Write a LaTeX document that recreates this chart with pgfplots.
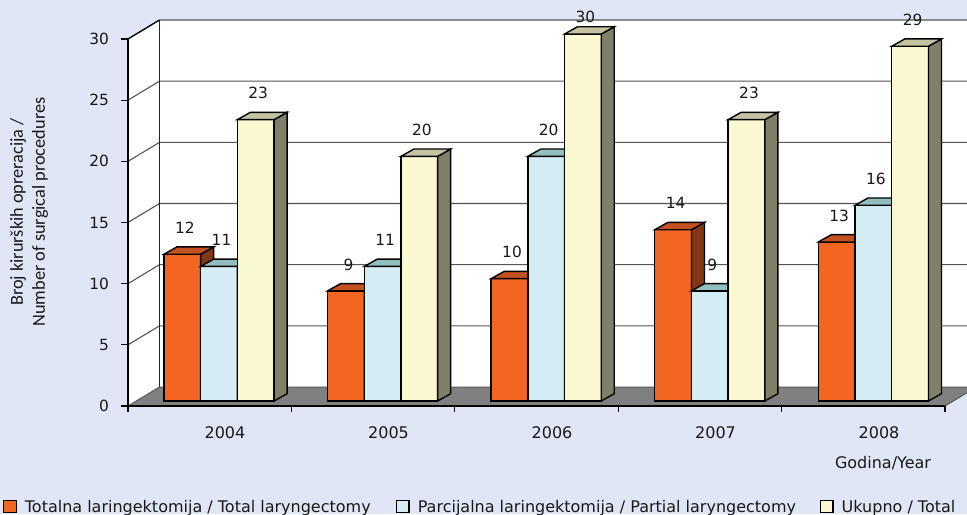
\documentclass[border=0pt]{standalone}
\usepackage{pgfplots}
\pgfplotsset{compat=1.18}
\usepackage{pgfplotstable}
\usepackage{fontspec}
\setmainfont{DejaVu Sans}
\newfontfamily\cb{Carlito}

\definecolor{bg}{RGB}{224,230,245}
\definecolor{orF}{RGB}{243,102,34}
\definecolor{orT}{RGB}{196,82,32}
\definecolor{orS}{RGB}{130,55,22}
\definecolor{blF}{RGB}{212,236,244}
\definecolor{blT}{RGB}{146,190,192}
\definecolor{blS}{RGB}{110,140,150}
\definecolor{yeF}{RGB}{250,248,208}
\definecolor{yeT}{RGB}{196,196,162}
\definecolor{yeS}{RGB}{128,128,104}
\definecolor{floorc}{RGB}{128,128,128}
\definecolor{gridc}{RGB}{85,85,85}

\pgfplotstableread{
cat tot par uk ys
0 12 11 23 13.25
1 9 11 20 13.25
2 10 20 30 8.5
3 14 9 23 13.25
4 13 16 29 13.25
}\data

% 1 px = 0.5pt ; 1 value unit = 12.233 px = 6.1165pt
\newcommand\cuboid[2]{%
  \pgfmathsetlengthmacro\hh{\val*6.1165pt}%
  \pgfsetlinewidth{0.7pt}%
  \pgfsetstrokecolor{black}%
  \pgfsetfillcolor{#1}%
  \pgfpathmoveto{\pgfpoint{9.175pt}{0pt}}%
  \pgfpathlineto{\pgfpoint{15.675pt}{3.65pt}}%
  \pgfpathlineto{\pgfpoint{15.675pt}{3.65pt-\hh}}%
  \pgfpathlineto{\pgfpoint{9.175pt}{-\hh}}%
  \pgfpathclose
  \pgfusepath{fill,stroke}%
  \pgfsetfillcolor{#2}%
  \pgfpathmoveto{\pgfpoint{-9.175pt}{0pt}}%
  \pgfpathlineto{\pgfpoint{9.175pt}{0pt}}%
  \pgfpathlineto{\pgfpoint{15.675pt}{3.65pt}}%
  \pgfpathlineto{\pgfpoint{-2.675pt}{3.65pt}}%
  \pgfpathclose
  \pgfusepath{fill,stroke}%
}
\pgfdeclareplotmark{cubA}{\cuboid{orS}{orT}}
\pgfdeclareplotmark{cubB}{\cuboid{blS}{blT}}
\pgfdeclareplotmark{cubC}{\cuboid{yeS}{yeT}}

\newcommand\lblfont{\fontsize{7.7pt}{9pt}\selectfont}
\newcommand\yrfont{\fontsize{8pt}{9.6pt}\selectfont}
\tikzset{lbl/.style={anchor=center, xshift=1.25pt, font=\lblfont, text=black!90}}

\begin{document}
\begin{tikzpicture}
\begin{axis}[
  x=0.5pt, y=6.1165pt,
  xmin=0, xmax=967, ymin=-9.2373, ymax=32.7802,
  hide axis,
  clip marker paths=true,
  /pgf/number format/assume math mode=true,
  legend style={at={(axis cs:3,-8.73)}, anchor=west, draw=none, fill=none,
    inner sep=0pt, outer sep=0pt, nodes={inner sep=0pt}, cells={anchor=west},
    font=\yrfont, text=black!90,
    /tikz/every odd column/.style={column sep=4pt},
    /tikz/every even column/.style={column sep=0pt}},
  legend columns=3,
  legend image code/.code={\draw[#1, line width=0.7pt] (0pt,-2.4pt) rectangle (6.25pt,3.6pt);},
]
\fill[bg] (rel axis cs:0,0) rectangle (rel axis cs:1,1);
\coordinate (bl) at (rel axis cs:0,0);
\coordinate (tr) at (rel axis cs:1,1);

% walls
\fill[white] (axis cs:128,-0.4087) -- (axis cs:128,29.5913) -- (axis cs:159.5,31.1445) -- (axis cs:159.5,1.1445) -- cycle;
\fill[white] (axis cs:159.5,1.1445) rectangle (axis cs:967,31.1445);
\pgfplotsinvokeforeach{5,10,...,30}{
  \draw[gridc, line width=0.55pt] (axis cs:128,{#1-0.4087}) -- (axis cs:159.5,{#1+1.1445}) -- (axis cs:967,{#1+1.1445});
}
\draw[black!85, line width=0.6pt] (axis cs:159.5,1.1445) -- (axis cs:159.5,31.1445);
\draw[black, line width=0.6pt] (axis cs:128,29.5913) -- (axis cs:159.5,31.1445);
% floor
\filldraw[fill=floorc, draw=black!65, line width=0.5pt] (axis cs:128,-0.4087) -- (axis cs:945,-0.4087) -- (axis cs:976.5,1.1445) -- (axis cs:159.5,1.1445) -- cycle;
% front axes
\draw[black, line width=0.7pt] (axis cs:128,29.5913) -- (axis cs:128,-0.4087) -- (axis cs:945,-0.4087);
\pgfplotsinvokeforeach{0,5,...,30}{
  \draw[black, line width=0.6pt] (axis cs:121,{#1-0.4087}) -- (axis cs:128,{#1-0.4087});
  \node[anchor=east, font=\lblfont, text=black!90] at (axis cs:116,{#1-0.4087}) {#1};
}
\pgfplotsinvokeforeach{0,1,...,5}{
  \draw[black, line width=0.6pt] (axis cs:{128+163.4*#1},-0.4087) -- (axis cs:{128+163.4*#1},-0.899);
}
\node[font=\yrfont, text=black!90] at (axis cs:225,-2.575) {2004};
\node[font=\yrfont, text=black!90] at (axis cs:388.5,-2.575) {2005};
\node[font=\yrfont, text=black!90] at (axis cs:552,-2.575) {2006};
\node[font=\yrfont, text=black!90] at (axis cs:715.5,-2.575) {2007};
\node[font=\yrfont, text=black!90] at (axis cs:879,-2.575) {2008};
\node[font=\yrfont, text=black!90] at (axis cs:883,-5.068) {Godina/Year};
\node[rotate=90, align=center, font=\cb\fontsize{9.15pt}{11pt}\selectfont, text=black!90] at (axis cs:29,15.45)
  {Broj kirurških opreracija /\\Number of surgical procedures};

% bars
\addplot[ybar, bar width=36.7, bar shift=0, fill=orF, draw=black, line width=0.7pt,
  nodes near coords, every node near coord/.append style={lbl, yshift=13.25pt}]
  table[x expr={219+163.6*\thisrow{cat}-36.7}, y=tot] {\data};
\addlegendentry{\makebox[185.5pt][l]{Totalna laringektomija / Total laryngectomy}}
\addplot[scatter, only marks, mark=cubA, forget plot,
  visualization depends on={\thisrow{tot} \as \val}]
  table[x expr={219+163.6*\thisrow{cat}-36.7}, y=tot] {\data};

\addplot[ybar, bar width=36.7, bar shift=0, fill=blF, draw=black, line width=0.7pt,
  nodes near coords, every node near coord/.append style={lbl, yshift=13.25pt}]
  table[x expr={219+163.6*\thisrow{cat}}, y=par] {\data};
\addlegendentry{\makebox[201pt][l]{Parcijalna laringektomija / Partial laryngectomy}}
\addplot[scatter, only marks, mark=cubB, forget plot,
  visualization depends on={\thisrow{par} \as \val}]
  table[x expr={219+163.6*\thisrow{cat}}, y=par] {\data};

\addplot[ybar, bar width=36.7, bar shift=0, fill=yeF, draw=black, line width=0.7pt,
  visualization depends on={\thisrow{ys} \as \ys},
  nodes near coords, every node near coord/.append style={lbl, yshift=\ys pt}]
  table[x expr={219+163.6*\thisrow{cat}+36.7}, y=uk] {\data};
\addlegendentry{Ukupno / Total}
\addplot[scatter, only marks, mark=cubC, forget plot,
  visualization depends on={\thisrow{uk} \as \val}]
  table[x expr={219+163.6*\thisrow{cat}+36.7}, y=uk] {\data};
\end{axis}
\pgfresetboundingbox
\path[use as bounding box] (bl) rectangle (tr);
\end{tikzpicture}
\end{document}
